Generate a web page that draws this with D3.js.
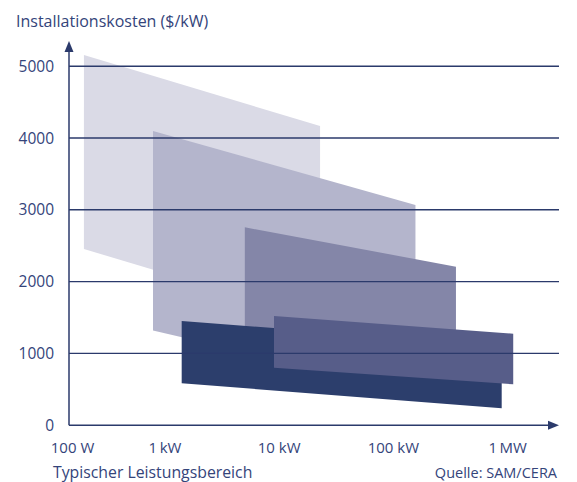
<!DOCTYPE html>
<html>
<head>
<meta charset="utf-8">
<script src="https://cdn.jsdelivr.net/npm/d3@7/dist/d3.min.js"></script>
<style>
  html, body { margin: 0; padding: 0; background: #ffffff; }
  svg { display: block; }
  text { font-family: "Open Sans", "Noto Sans", sans-serif; font-weight: 400; fill: #34447a; }
</style>
</head>
<body>
<svg id="chart" width="577" height="482"></svg>
<script>
// Typical power range (W) and installation cost band ($/kW) for each technology block
const rangeMinW      = [195,   785,    5000,   1400,   9000];
const rangeMaxW      = [22800, 156000, 353000, 888000, 1120000];
const costTopStart   = [5156,  4097,   2756,   1451,   1521];
const costTopEnd     = [4167,  3067,   2208,   1110,   1274];
const costBottomStart= [2454,  1319,   1300,   584,    801];
const costBottomEnd  = [1470,  470,    1000,   235,    570];
const blockColors    = ["#dadae6", "#b4b5cc", "#8486a8", "#2c3e6c", "#575d89"];

// Axis ticks
const powerTicks  = [1e2, 1e3, 1e4, 1e5, 1e6];
const powerLabels = ["100 W", "1\u2009kW", "10 kW", "100 kW", "1\u2009MW"];
const costTicks   = [0, 1000, 2000, 3000, 4000, 5000];
const costLabels  = ["0", "1000", "2000", "3000", "4000", "5000"];

const navy = "#2b3a6b";
const svg = d3.select("#chart");

const x = d3.scaleLog().domain([100, 1e6]).range([50.8, 507.6]);
const y = d3.scaleLinear().domain([0, 5000]).range([425.2, 66.2]);

const axisX0 = 69, axisY0 = 425.2, axisXEnd = 559, axisYEnd = 41;

// Cost blocks
const blocks = rangeMinW.map((d, i) => [
  [x(rangeMinW[i]), y(costTopStart[i])],
  [x(rangeMaxW[i]), y(costTopEnd[i])],
  [x(rangeMaxW[i]), y(costBottomEnd[i])],
  [x(rangeMinW[i]), y(costBottomStart[i])]
]);
svg.append("g").selectAll("path").data(blocks).join("path")
  .attr("d", d => "M" + d.join("L") + "Z")
  .attr("fill", (d, i) => blockColors[i]);

// Horizontal grid lines
svg.append("g").selectAll("line").data(costTicks.filter(v => v > 0)).join("line")
  .attr("x1", axisX0).attr("x2", axisXEnd)
  .attr("y1", d => y(d)).attr("y2", d => y(d))
  .attr("stroke", navy).attr("stroke-width", 1.4);

// Axes with arrowheads
svg.append("line").attr("x1", axisX0).attr("x2", axisX0).attr("y1", axisY0).attr("y2", axisYEnd + 8)
  .attr("stroke", navy).attr("stroke-width", 1.5);
svg.append("line").attr("x1", axisX0).attr("x2", axisXEnd - 8).attr("y1", axisY0).attr("y2", axisY0)
  .attr("stroke", navy).attr("stroke-width", 1.5);
svg.append("path")
  .attr("d", `M${axisX0},${axisYEnd}L${axisX0 + 4.5},${axisYEnd + 11}L${axisX0 - 4.5},${axisYEnd + 11}Z`)
  .attr("fill", navy);
svg.append("path")
  .attr("d", `M${axisXEnd},${axisY0}L${axisXEnd - 11},${axisY0 - 4.5}L${axisXEnd - 11},${axisY0 + 4.5}Z`)
  .attr("fill", navy);

// Y tick labels
svg.append("g").selectAll("text").data(costTicks).join("text")
  .attr("x", 54).attr("y", d => y(d))
  .attr("dy", "0.36em")
  .attr("text-anchor", "end")
  .attr("font-size", 15.5)
  .text((d, i) => costLabels[i]);

// X tick labels
svg.append("g").selectAll("text").data(powerTicks).join("text")
  .attr("x", d => x(d))
  .attr("y", 453)
  .attr("text-anchor", (d, i) => i === 0 ? "start" : "middle")
  .attr("font-size", 15)
  .text((d, i) => powerLabels[i]);

// Titles
svg.append("text").attr("x", 16).attr("y", 27).attr("font-size", 16)
  .text("Installationskosten ($/kW)");
svg.append("text").attr("x", 53).attr("y", 477.5).attr("font-size", 15.8)
  .text("Typischer Leistungsbereich");
svg.append("text").attr("x", 557).attr("y", 477.5).attr("font-size", 14.5)
  .attr("text-anchor", "end")
  .text("Quelle: SAM/CERA");
</script>
</body>
</html>
